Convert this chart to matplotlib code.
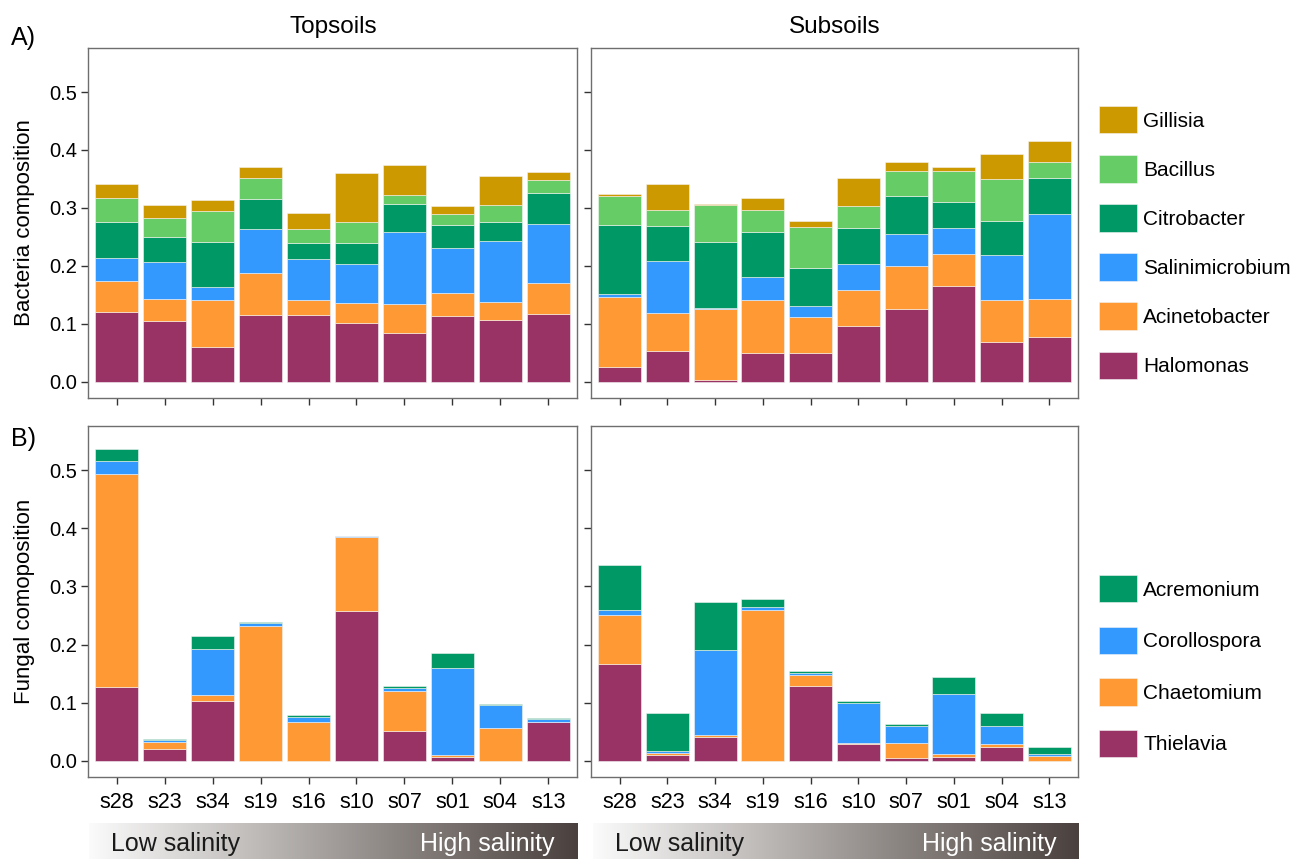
import numpy as np
import matplotlib
matplotlib.use("Agg")
import matplotlib.pyplot as plt
from matplotlib.colors import LinearSegmentedColormap

plt.rcParams["font.family"] = ["Liberation Sans", "DejaVu Sans"]

samples = ["s28", "s23", "s34", "s19", "s16", "s10", "s07", "s01", "s04", "s13"]

# bacterial genera, bottom of the stack first
bacteria = ["Halomonas", "Acinetobacter", "Salinimicrobium", "Citrobacter", "Bacillus", "Gillisia"]
bacteria_colors = ["#993366", "#FF9933", "#3399FF", "#009966", "#66CC66", "#CC9900"]

top_halomonas = [0.120, 0.105, 0.060, 0.116, 0.115, 0.101, 0.084, 0.113, 0.106, 0.117]
top_acinetobacter = [0.054, 0.038, 0.081, 0.071, 0.026, 0.035, 0.051, 0.040, 0.031, 0.053]
top_salinimicrobium = [0.040, 0.064, 0.022, 0.076, 0.071, 0.068, 0.124, 0.077, 0.106, 0.102]
top_citrobacter = [0.061, 0.042, 0.078, 0.053, 0.027, 0.036, 0.047, 0.041, 0.032, 0.054]
top_bacillus = [0.042, 0.034, 0.053, 0.036, 0.024, 0.035, 0.017, 0.018, 0.030, 0.023]
top_gillisia = [0.024, 0.022, 0.019, 0.019, 0.028, 0.085, 0.051, 0.015, 0.050, 0.013]

sub_halomonas = [0.025, 0.053, 0.003, 0.050, 0.049, 0.097, 0.125, 0.165, 0.068, 0.078]
sub_acinetobacter = [0.121, 0.065, 0.123, 0.091, 0.063, 0.062, 0.075, 0.055, 0.073, 0.065]
sub_salinimicrobium = [0.005, 0.090, 0.002, 0.040, 0.018, 0.045, 0.055, 0.045, 0.077, 0.146]
sub_citrobacter = [0.120, 0.061, 0.113, 0.078, 0.066, 0.061, 0.066, 0.046, 0.060, 0.063]
sub_bacillus = [0.050, 0.027, 0.064, 0.038, 0.071, 0.039, 0.043, 0.053, 0.072, 0.027]
sub_gillisia = [0.003, 0.046, 0.001, 0.021, 0.010, 0.047, 0.015, 0.007, 0.043, 0.037]

# fungal genera, bottom of the stack first
fungi = ["Thielavia", "Chaetomium", "Corollospora", "Acremonium"]
fungi_colors = ["#993366", "#FF9933", "#3399FF", "#009966"]

top_thielavia = [0.127, 0.020, 0.102, 0.000, 0.000, 0.258, 0.051, 0.007, 0.000, 0.066]
top_chaetomium = [0.366, 0.013, 0.011, 0.231, 0.067, 0.127, 0.069, 0.003, 0.056, 0.001]
top_corollospora = [0.023, 0.002, 0.080, 0.006, 0.008, 0.001, 0.006, 0.150, 0.040, 0.004]
top_acremonium = [0.020, 0.003, 0.022, 0.001, 0.004, 0.001, 0.003, 0.025, 0.001, 0.002]

sub_thielavia = [0.167, 0.010, 0.040, 0.000, 0.128, 0.028, 0.004, 0.007, 0.024, 0.000]
sub_chaetomium = [0.083, 0.004, 0.004, 0.260, 0.019, 0.003, 0.026, 0.005, 0.004, 0.008]
sub_corollospora = [0.009, 0.002, 0.147, 0.004, 0.004, 0.069, 0.029, 0.102, 0.032, 0.004]
sub_acremonium = [0.078, 0.066, 0.083, 0.014, 0.004, 0.002, 0.005, 0.030, 0.022, 0.012]

yticks = [0.0, 0.1, 0.2, 0.3, 0.4, 0.5]

W, H = 1294, 859
fig = plt.figure(figsize=(W / 100, H / 100), dpi=100)


def rect(x0, y0, x1, y1):
    # pixel box -> figure fraction
    return [x0 / W, 1 - y1 / H, (x1 - x0) / W, (y1 - y0) / H]


def stacked(ax, layers, colors, labels, show_xlabels, show_ylabels):
    x = np.arange(1, len(samples) + 1)
    bottom = np.zeros(len(samples))
    bars = []
    for vals, c, lab in zip(layers, colors, labels):
        vals = np.asarray(vals)
        b = ax.bar(x, vals, bottom=bottom, width=0.9, color=c,
                   edgecolor="#f4f4f4", linewidth=0.4, label=lab)
        bars.append(b)
        bottom += vals
    ax.set_xlim(0.4, 10.6)
    ax.set_ylim(-0.028, 0.576)
    ax.set_xticks(x)
    ax.set_yticks(yticks)
    if show_xlabels:
        ax.set_xticklabels(samples)
    else:
        ax.set_xticklabels([])
    if show_ylabels:
        ax.set_yticklabels([f"{t:.1f}" for t in yticks])
    else:
        ax.set_yticklabels([])
    ax.tick_params(direction="out", length=5, width=1, color="#333333",
                   labelsize=14.5, labelcolor="black", pad=3)
    ax.tick_params(axis="x", pad=6, labelsize=15.5)
    for s in ax.spines.values():
        s.set_color("#6e6e6e")
        s.set_linewidth(1.0)
    return bars


ax_a1 = fig.add_axes(rect(88, 48, 577, 398))
ax_a2 = fig.add_axes(rect(591, 48, 1078, 398))
ax_b1 = fig.add_axes(rect(88, 426, 577, 777))
ax_b2 = fig.add_axes(rect(591, 426, 1078, 777))

bars_a = stacked(ax_a1, [top_halomonas, top_acinetobacter, top_salinimicrobium,
                         top_citrobacter, top_bacillus, top_gillisia],
                 bacteria_colors, bacteria, False, True)
stacked(ax_a2, [sub_halomonas, sub_acinetobacter, sub_salinimicrobium,
                sub_citrobacter, sub_bacillus, sub_gillisia],
        bacteria_colors, bacteria, False, False)
bars_b = stacked(ax_b1, [top_thielavia, top_chaetomium, top_corollospora, top_acremonium],
                 fungi_colors, fungi, True, True)
stacked(ax_b2, [sub_thielavia, sub_chaetomium, sub_corollospora, sub_acremonium],
        fungi_colors, fungi, True, False)

# legends (top genus first)
fig.legend(bars_a[::-1], bacteria[::-1], loc="upper left",
           bbox_to_anchor=(1099 / W, 1 - 106 / H), frameon=False, fontsize=15,
           handlelength=1.83, handleheight=1.65, handletextpad=0.3,
           labelspacing=1.04, borderpad=0, borderaxespad=0)
fig.legend(bars_b[::-1], fungi[::-1], loc="upper left",
           bbox_to_anchor=(1099 / W, 1 - 575 / H), frameon=False, fontsize=15,
           handlelength=1.83, handleheight=1.65, handletextpad=0.3,
           labelspacing=1.16, borderpad=0, borderaxespad=0)

# titles, panel tags and axis labels
fig.text(333 / W, 1 - 33 / H, "Topsoils", ha="center", va="baseline", fontsize=17.5)
fig.text(835 / W, 1 - 33 / H, "Subsoils", ha="center", va="baseline", fontsize=17.5)
fig.text(11 / W, 1 - 45 / H, "A)", ha="left", va="baseline", fontsize=18)
fig.text(11 / W, 1 - 446 / H, "B)", ha="left", va="baseline", fontsize=18)
fig.text(25 / W, 1 - 223 / H, "Bacteria composition", rotation=90,
         ha="center", va="center", fontsize=16)
fig.text(25 / W, 1 - 601 / H, "Fungal comoposition", rotation=90,
         ha="center", va="center", fontsize=16)

# salinity gradient bars under each column
grad_cmap = LinearSegmentedColormap.from_list(
    "salinity", ["#fbfbfb", "#a29d9a", "#4a413e"])
gradient = np.linspace(0, 1, 256).reshape(1, -1)
for x0, x1 in [(89, 578), (593, 1079)]:
    gax = fig.add_axes(rect(x0, 823, x1, 859))
    gax.imshow(gradient, aspect="auto", cmap=grad_cmap, extent=(0, 1, 0, 1))
    gax.set_axis_off()
    fig.text((x0 + 22) / W, 1 - 851 / H, "Low salinity", ha="left",
             va="baseline", fontsize=18, color="#1a1a1a")
    fig.text((x1 - 23) / W, 1 - 851 / H, "High salinity", ha="right",
             va="baseline", fontsize=18, color="white")

fig.savefig("out.png", dpi=100)
